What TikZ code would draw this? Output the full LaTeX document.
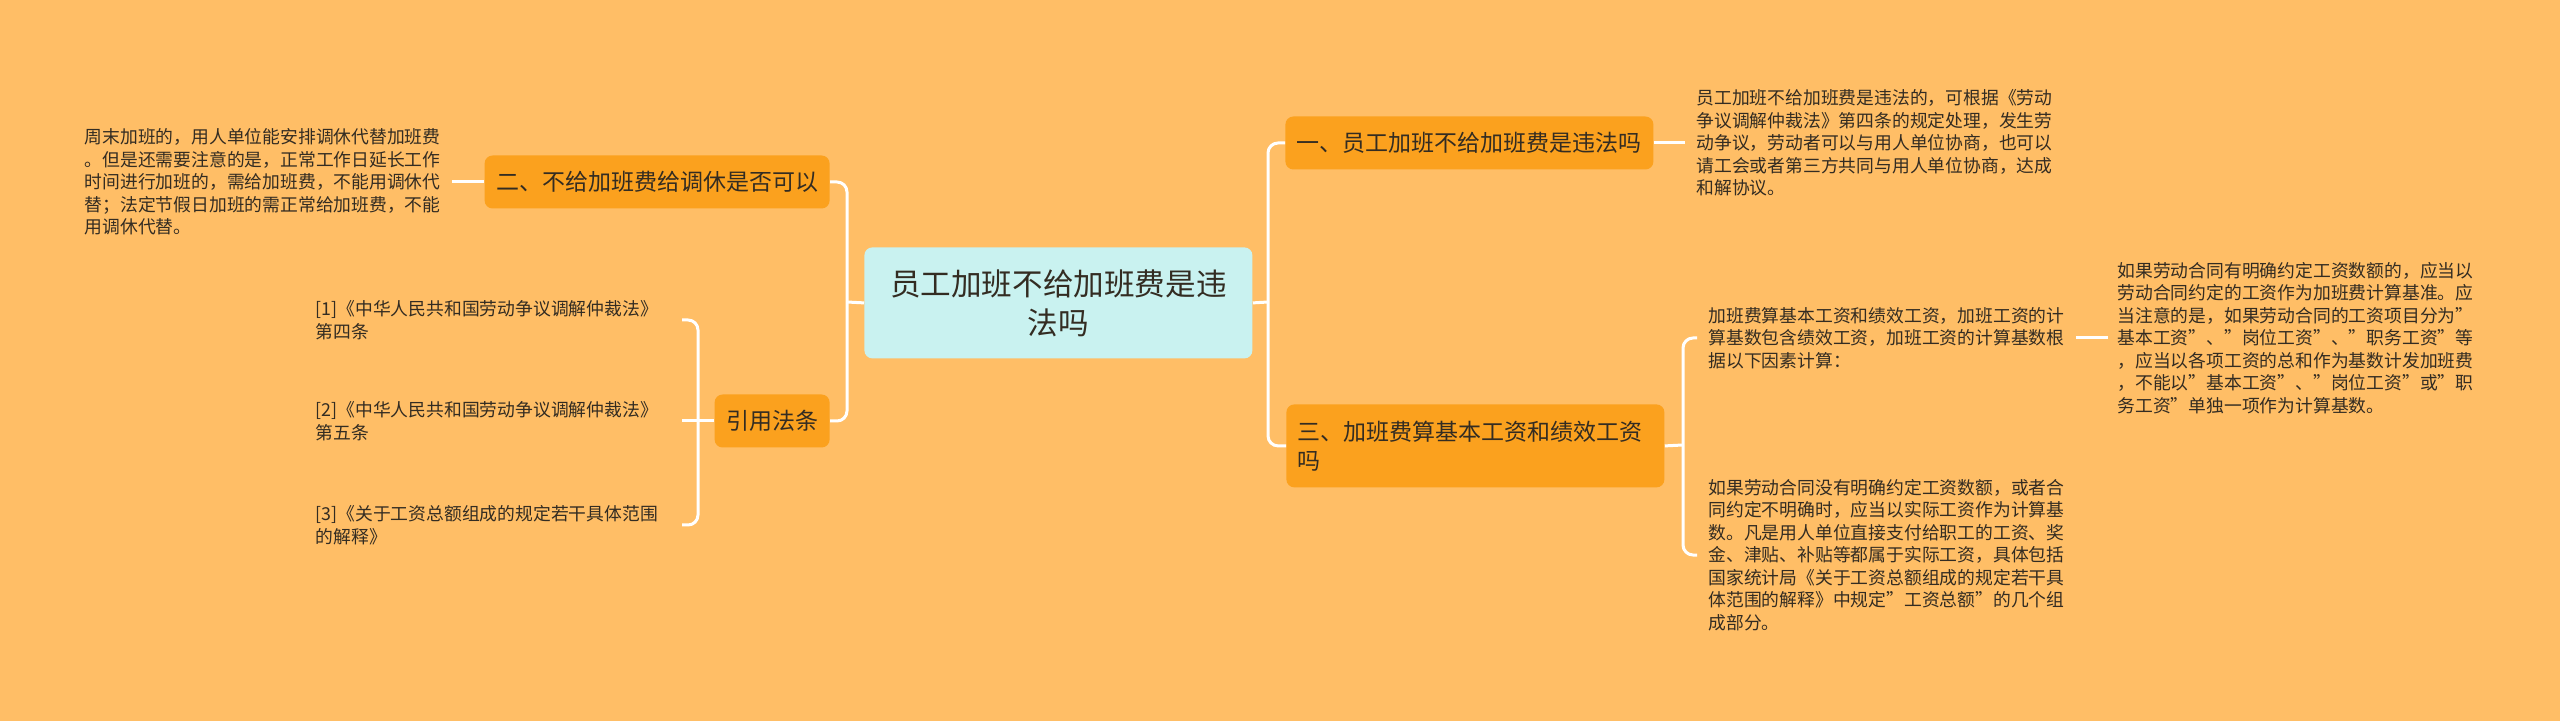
\documentclass[tikz,border=0pt]{standalone}
\usepackage{fontspec}
\setmainfont{Noto Sans CJK SC}
\usepackage{tikz}
\usetikzlibrary{positioning, calc}
\definecolor{paper}{HTML}{FFBE66}
\definecolor{branch}{HTML}{FBA11E}
\definecolor{core}{HTML}{C9F2F0}
\definecolor{ink}{HTML}{332C22}

\begin{document}
\begin{tikzpicture}[x=0.5pt, y=-0.5pt,
    root/.style={fill=core, rounded corners=4pt, minimum width=194pt,
                 minimum height=55.5pt, align=center, text=ink,
                 font=\fontsize{15.3}{19.5}\selectfont},
    topic/.style={fill=branch, rounded corners=4pt, inner xsep=5.75pt,
                  minimum height=26.5pt, text=ink,
                  font=\fontsize{11.5}{14.5}\selectfont},
    leaf/.style={align=left, inner xsep=5.5pt, inner ysep=2pt, text=ink,
                 font=\fontsize{8.9}{11.25}\selectfont},
    link/.style={draw=white, line width=1.5pt, rounded corners=5pt}
  ]
  \fill[paper] (0,0) rectangle (2560,721);

  % centre and the four topics
  \node[root, anchor=north west] (root) at (864,247) {员工加班不给加班费是违\\法吗};
  \node[topic, anchor=west] (b1) at (1285,143) {一、员工加班不给加班费是违法吗};
  \node[topic, anchor=east] (b2) at (830,182) {二、不给加班费给调休是否可以};
  \node[topic, anchor=north west, text width=178pt, align=left, inner xsep=5.5pt,
        minimum height=41.5pt] (b3) at (1286,404) {三、加班费算基本工资和绩效工资\\吗};
  \node[topic, anchor=east] (refs) at (830,421) {引用法条};

  % leaves
  \node[leaf, anchor=west] (l1) at (1685,143) {员工加班不给加班费是违法的，可根据《劳动\\争议调解仲裁法》第四条的规定处理，发生劳\\动争议，劳动者可以与用人单位协商，也可以\\请工会或者第三方共同与用人单位协商，达成\\和解协议。};
  \node[leaf, anchor=east] (l2) at (452,182) {周末加班的，用人单位能安排调休代替加班费\\。但是还需要注意的是，正常工作日延长工作\\时间进行加班的，需给加班费，不能用调休代\\替；法定节假日加班的需正常给加班费，不能\\用调休代替。};
  \node[leaf, anchor=west] (l3a) at (1697,338) {加班费算基本工资和绩效工资，加班工资的计\\算基数包含绩效工资，加班工资的计算基数根\\据以下因素计算：};
  \node[leaf, anchor=west, inner xsep=4.5pt] (l3c) at (2108,338) {如果劳动合同有明确约定工资数额的，应当以\\劳动合同约定的工资作为加班费计算基准。应\\当注意的是，如果劳动合同的工资项目分为”\\基本工资”、”岗位工资”、”职务工资”等\\，应当以各项工资的总和作为基数计发加班费\\，不能以”基本工资”、”岗位工资”或”职\\务工资”单独一项作为计算基数。};
  \node[leaf, anchor=west] (l3b) at (1697,555) {如果劳动合同没有明确约定工资数额，或者合\\同约定不明确时，应当以实际工资作为计算基\\数。凡是用人单位直接支付给职工的工资、奖\\金、津贴、补贴等都属于实际工资，具体包括\\国家统计局《关于工资总额组成的规定若干具\\体范围的解释》中规定”工资总额”的几个组\\成部分。};

  \node[leaf, anchor=east, text width=177.5pt] (r1) at (682,320) {[1]《中华人民共和国劳动争议调解仲裁法》\\第四条};
  \node[leaf, anchor=east, text width=177.5pt] (r2) at (682,421) {[2]《中华人民共和国劳动争议调解仲裁法》\\第五条};
  \node[leaf, anchor=east, text width=177.5pt] (r3) at (682,525) {[3]《关于工资总额组成的规定若干具体范围\\的解释》};

  % joints
  \coordinate (rj) at (1268,302);
  \coordinate (lj) at (847,302);
  \coordinate (tj) at (1683,445);
  \coordinate (fj) at (698,421);

  % connectors
  \draw[link] (root.east) -- (rj);
  \draw[link] (b1.west) -| (rj) |- (b3.west);
  \draw[link] (root.west) -- (lj);
  \draw[link] (b2.east) -| (lj) |- (refs.east);
  \draw[link] (b1.east) -- (l1.west);
  \draw[link] (l2.east) -- (b2.west);
  \draw[link] (b3.east) -- (tj);
  \draw[link] (l3a.west) -| (tj) |- (l3b.west);
  \draw[link] (l3a.east) -- (l3c.west);
  \draw[link] (refs.west) -- (r2.east);
  \draw[link] (r1.east) -| (fj) |- (r3.east);
\end{tikzpicture}
\end{document}
